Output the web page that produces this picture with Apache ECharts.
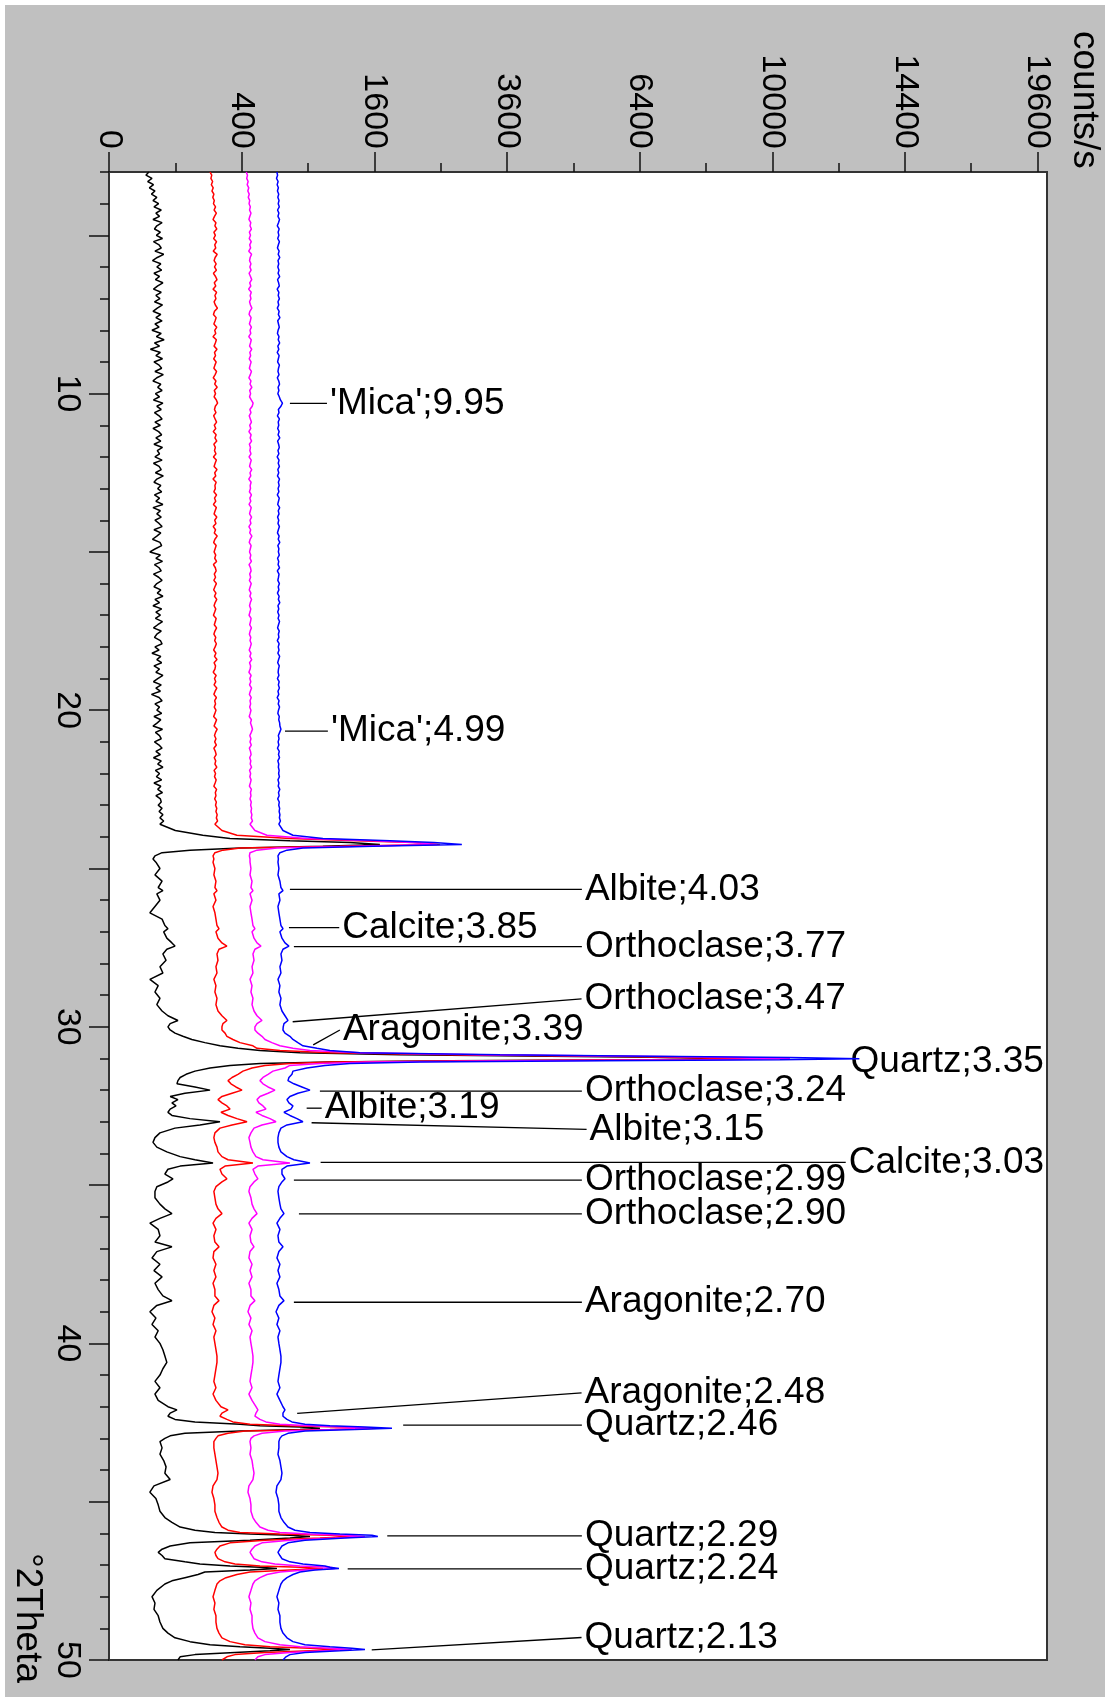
<!DOCTYPE html>
<html><head><meta charset="utf-8">
<script src="https://cdn.jsdelivr.net/npm/echarts@6/dist/echarts.min.js"></script>
<style>html,body{margin:0;padding:0;background:#fff;}#chart{width:1105px;height:1697px;}</style>
</head><body><div id="chart"></div>
<script>
// 2theta sampling positions (degrees)
const theta = [
3,3.1,3.2,3.3,3.4,3.5,3.6,3.7,3.8,3.9,
4,4.1,4.2,4.3,4.4,4.5,4.6,4.7,4.8,4.9,
5,5.1,5.2,5.3,5.4,5.5,5.6,5.7,5.8,5.9,
6,6.1,6.2,6.3,6.4,6.5,6.6,6.7,6.8,6.9,
7,7.1,7.2,7.3,7.4,7.5,7.6,7.7,7.8,7.9,
8,8.1,8.2,8.3,8.4,8.5,8.6,8.7,8.8,8.9,
9,9.1,9.2,9.3,9.4,9.5,9.6,9.7,9.8,9.9,
10,10.1,10.2,10.3,10.4,10.5,10.6,10.7,10.8,10.9,
11,11.1,11.2,11.3,11.4,11.5,11.6,11.7,11.8,11.9,
12,12.1,12.2,12.3,12.4,12.5,12.6,12.7,12.8,12.9,
13,13.1,13.2,13.3,13.4,13.5,13.6,13.7,13.8,13.9,
14,14.1,14.2,14.3,14.4,14.5,14.6,14.7,14.8,14.9,
15,15.1,15.2,15.3,15.4,15.5,15.6,15.7,15.8,15.9,
16,16.1,16.2,16.3,16.4,16.5,16.6,16.7,16.8,16.9,
17,17.1,17.2,17.3,17.4,17.5,17.6,17.7,17.8,17.9,
18,18.1,18.2,18.3,18.4,18.5,18.6,18.7,18.8,18.9,
19,19.1,19.2,19.3,19.4,19.5,19.6,19.7,19.8,19.9,
20,20.1,20.2,20.3,20.4,20.5,20.6,20.7,20.8,20.9,
21,21.1,21.2,21.3,21.4,21.5,21.6,21.7,21.8,21.9,
22,22.1,22.2,22.3,22.4,22.5,22.6,22.7,22.8,22.9,
23,23.1,23.2,23.3,23.4,23.5,
23.6,23.8,23.95,24.05,24.12,24.18,24.24,24.3,24.35,24.42,24.5,24.6,24.7,
24.8,25,25.2,25.4,25.6,25.7,25.8,26,26.2,26.4,26.6,26.8,26.9,27,27.2,27.35,27.45,27.55,27.7,27.9,28.1,28.3,28.5,28.7,28.9,29.1,29.3,29.5,29.65,29.8,29.9,
30,30.1,30.2,30.3,30.4,30.5,30.6,30.68,30.75,30.82,30.88,30.93,30.97,31.01,31.04,31.07,31.11,31.16,31.22,31.3,31.4,31.5,31.6,31.7,31.8,31.9,32,32.1,32.2,32.3,32.4,32.5,32.6,32.7,32.8,32.9,33,33.1,33.2,33.35,33.5,33.65,33.8,33.95,34.1,34.2,34.3,34.4,34.5,34.65,34.8,34.9,35.05,35.2,
35.4,35.6,35.75,35.9,36.05,36.2,36.4,36.6,36.8,36.95,37.1,37.3,37.5,37.7,37.9,38.1,38.3,38.5,38.65,38.8,39,39.2,39.4,39.6,39.8,40,40.2,40.4,40.6,40.8,41,41.2,41.4,41.6,41.8,42,42.1,42.2,42.3,42.4,42.48,42.55,
42.6,42.64,42.68,42.72,42.77,42.84,42.92,43,43.1,
43.3,43.5,43.7,43.9,44.1,44.3,44.5,44.7,44.9,45.1,45.3,45.5,45.65,45.8,45.9,
45.97,46.02,46.06,46.1,46.15,46.22,46.3,46.4,46.5,46.6,46.7,46.8,46.9,46.97,
47.03,47.07,47.11,47.16,47.22,47.3,47.4,47.5,47.6,
47.8,48,48.2,48.4,48.6,48.8,49,49.15,49.3,49.42,49.52,
49.58,49.63,49.67,49.71,49.76,49.83,49.9,50
];

// counts/s, one value per theta position
const blackCounts = [
36,31,42,34,45,37,48,41,52,44,
56,46,62,50,58,44,64,52,47,60,
51,65,45,57,62,48,68,53,43,61,
52,63,46,58,49,66,54,45,62,50,
59,47,65,53,44,61,50,64,48,57,
42,62,51,69,47,58,39,60,50,65,
46,57,63,48,67,52,44,61,54,64,
49,58,45,66,52,62,47,57,64,48,
60,44,56,63,50,61,46,65,53,58,
48,64,45,57,62,49,67,52,46,61,
54,63,47,58,50,66,44,60,52,62,
48,57,64,46,61,52,43,59,63,49,
38,60,50,65,47,57,62,45,56,64,
52,46,61,53,66,48,58,44,63,50,
60,49,65,54,45,62,52,47,60,64,
48,57,42,61,52,63,46,58,50,66,
54,45,62,50,60,41,57,64,48,58,
52,63,46,61,53,44,65,49,58,62,
47,57,64,50,60,45,62,54,66,49,
58,51,63,46,61,54,65,50,60,62,
55,64,57,66,59,68,
59,100,200,333,744,1319,1668,1040,390,149,64,48,44,
50,59,48,64,55,66,52,59,48,38,64,71,79,68,76,90,99,76,66,74,59,66,38,55,48,59,52,64,79,108,85,
79,85,99,124,156,209,280,378,518,829,1923,4416,7407,8950,6650,2641,1109,518,333,232,168,135,115,108,105,168,232,131,85,108,90,102,85,79,90,149,280,188,99,59,48,44,52,76,115,168,246,115,79,71,93,79,52,48,
48,59,71,90,59,38,55,59,48,90,52,42,59,46,64,48,55,66,90,52,38,50,42,55,48,59,66,71,76,66,59,48,59,48,55,79,105,85,79,99,168,390,
518,829,1011,829,390,131,85,71,59,
64,59,68,74,71,85,46,38,50,55,59,71,90,115,168,
255,452,744,918,744,452,149,85,64,55,64,71,131,188,
333,518,641,452,209,180,131,90,71,
52,42,48,46,55,59,66,79,99,149,232,
390,589,744,589,361,168,115,108
];

const redCounts = [
232,240,236,244,238,247,241,250,245,252,
248,258,251,262,253,246,260,255,264,250,
257,249,263,254,259,247,266,256,251,261,
253,262,248,258,265,252,259,246,263,255,
260,251,257,267,253,248,261,256,250,264,
254,259,246,262,257,251,265,253,258,249,
261,255,250,263,256,247,260,254,266,252,
258,251,262,268,257,253,260,249,256,263,
252,259,247,261,255,264,250,257,253,260,
248,262,256,251,265,254,259,246,261,255,
257,250,263,253,259,248,262,256,251,264,
254,260,247,258,252,266,255,249,261,256,
251,259,254,263,248,257,261,252,258,250,
262,255,249,260,253,264,256,251,259,254,
248,261,257,252,263,255,250,259,254,262,
256,249,260,253,265,251,258,255,247,261,
253,259,251,264,256,250,262,254,258,252,
260,255,249,263,257,251,266,258,253,260,
254,262,250,257,261,252,259,255,264,251,
258,253,261,256,250,263,257,260,254,262,
258,264,260,266,262,268,
255,290,372,744,1397,2100,2489,1212,390,295,255,246,250,
246,255,250,260,255,265,250,260,246,255,260,265,275,260,270,290,316,275,265,270,260,265,250,260,255,265,260,270,290,316,295,
290,290,306,316,349,390,471,498,664,1109,2641,5476,7934,9390,6650,3126,1109,744,553,465,408,378,344,322,338,366,402,344,290,270,290,316,333,285,322,372,433,344,280,255,250,255,265,270,290,322,471,306,280,290,316,290,260,250,
255,260,270,290,260,246,260,250,255,275,250,246,260,250,260,246,255,255,275,250,241,255,246,260,250,255,260,265,265,260,255,250,260,246,260,285,322,290,280,316,349,452,
744,1212,1630,1109,420,322,270,260,250,
250,255,260,265,270,265,246,241,250,255,255,265,275,290,322,
390,664,1109,1397,1011,553,333,280,265,255,260,270,306,361,
518,829,1040,744,452,372,311,280,265,
255,246,255,250,260,260,265,275,290,333,420,
589,918,1243,918,553,361,316,290
];

const magentaCounts = [
428,436,431,440,434,444,438,447,441,450,
446,454,449,458,451,445,457,452,461,448,
455,447,460,450,456,444,462,453,449,458,
451,459,446,455,463,450,457,443,460,453,
458,449,455,464,451,446,459,454,448,461,
452,457,444,460,455,449,463,451,456,447,
459,453,448,461,454,445,458,452,464,450,
456,449,460,472,466,451,458,447,454,461,
450,457,445,459,453,462,448,455,451,458,
446,460,454,449,463,452,457,444,459,453,
455,448,461,451,457,446,460,454,449,462,
452,458,445,456,450,464,453,447,459,454,
449,457,452,461,446,455,459,450,456,448,
460,453,447,458,451,462,454,449,457,452,
446,459,455,450,461,453,448,457,452,460,
454,447,458,451,463,449,456,453,445,459,
451,457,449,462,454,448,460,452,456,450,
458,453,447,461,455,462,468,460,451,458,
452,460,448,455,459,450,457,453,462,449,
456,451,459,454,448,461,455,458,452,460,
456,462,458,464,460,468,
452,484,567,890,1583,2100,2443,1397,641,498,452,448,452,
452,458,452,465,458,471,452,465,452,458,465,471,484,465,478,498,525,484,471,478,465,471,452,465,458,471,465,478,498,532,498,
484,484,504,532,553,603,664,769,918,1431,3126,6400,9050,10540,7934,3836,1547,1011,744,704,611,575,539,518,539,575,626,575,518,498,511,539,560,491,532,589,634,532,478,458,445,452,458,471,491,539,744,504,471,484,504,478,452,445,
458,465,478,498,465,445,465,452,458,478,452,445,465,452,465,445,458,458,484,452,439,458,445,465,452,458,465,471,471,465,458,452,465,445,465,491,504,491,484,518,560,664,
918,1265,1571,1160,704,532,478,458,452,
458,452,465,471,478,471,445,439,452,458,458,471,491,518,575,
664,918,1265,1489,1160,744,532,484,465,452,465,478,532,626,
829,1109,1160,873,664,567,518,484,471,
458,445,458,452,465,465,471,484,504,553,664,
829,1109,1340,1060,744,553,504,484
];

const blueCounts = [
640,646,638,650,643,652,645,655,648,657,
651,659,646,656,649,661,653,644,658,650,
656,647,660,652,645,658,651,663,649,655,
648,657,650,662,646,654,659,643,656,651,
660,649,655,644,658,652,664,647,653,659,
650,645,657,651,662,648,655,643,658,652,
646,660,653,649,657,644,655,661,650,656,
648,659,668,684,672,652,657,645,660,651,
655,647,658,650,663,646,654,659,649,656,
643,657,651,660,648,655,645,661,652,658,
650,656,644,659,653,647,662,651,657,646,
655,649,660,652,645,658,651,663,648,656,
652,659,646,655,650,661,644,657,653,648,
660,651,656,645,658,652,663,649,655,647,
657,650,661,653,646,659,652,656,644,658,
651,657,648,662,654,647,659,653,650,656,
645,658,652,660,649,655,643,657,651,661,
653,648,659,655,662,664,672,662,652,657,
650,656,645,659,653,661,648,655,652,658,
654,660,649,656,651,663,653,658,647,659,
655,662,658,664,660,668,
656,688,769,1040,1794,2400,2830,1583,855,720,664,649,652,
649,656,649,664,672,688,656,664,649,656,664,672,688,664,680,704,736,688,672,680,664,672,649,664,656,672,664,680,704,728,696,
690,688,704,744,769,811,855,983,1109,1431,3473,6650,10540,12800,10230,5480,2196,1319,1060,890,769,761,736,728,777,846,918,811,744,720,736,769,753,696,744,803,855,720,672,656,649,649,656,672,720,777,918,720,680,680,704,680,656,649,
656,664,672,696,664,641,664,649,656,688,656,641,664,649,664,641,656,664,696,656,634,656,641,664,649,656,664,672,672,664,656,649,664,641,664,688,704,688,688,720,761,873,
1109,1489,1820,1375,873,728,680,664,656,
656,649,664,672,680,672,641,634,649,656,656,672,696,728,786,
918,1212,1571,1643,1265,873,728,680,664,649,664,680,744,855,
1060,1109,1202,964,829,769,720,688,672,
656,641,656,649,664,664,672,688,720,769,873,
1109,1340,1489,1212,873,744,712,688
];

// axis ticks
const countTicks = [0,400,1600,3600,6400,10000,14400,19600];
const countMinorTicks = [100,900,2500,4900,8100,12100,16900];
const countMax = 20000;
const thetaMin = 3, thetaMax = 50;
const thetaLabels = [10,20,30,40,50];
const thetaMajorTicks = [5,10,15,20,25,30,35,40,45,50];
const thetaMinorTicks = [3,4,6,7,8,9,11,12,13,14,16,17,18,19,21,22,23,24,26,27,28,29,31,32,33,34,36,37,38,39,41,42,43,44,46,47,48,49];

// peak annotations
const annoText = ["'Mica';9.95","'Mica';4.99","Albite;4.03","Calcite;3.85","Orthoclase;3.77","Orthoclase;3.47","Aragonite;3.39","Quartz;3.35","Orthoclase;3.24","Albite;3.19","Albite;3.15","Calcite;3.03","Orthoclase;2.99","Orthoclase;2.90","Aragonite;2.70","Aragonite;2.48","Quartz;2.46","Quartz;2.29","Quartz;2.24","Quartz;2.13"];
const annoPeakTheta = [10.31,20.66,25.66,26.87,27.47,29.84,30.57,31.10,32.03,32.57,33.03,34.28,34.84,35.91,38.70,42.21,42.58,46.08,47.12,49.68];
const annoPeakCounts = [744,704,744,736,777,767,948,12400,1011,888,933,1018,777,820,777,805,1967,1760,1295,1569];
const annoLabelTheta = [10.31,20.66,25.66,26.87,27.47,29.12,30.10,31.10,32.03,32.57,33.24,34.28,34.84,35.91,38.70,41.56,42.58,46.08,47.12,49.29];
const annoLabelCounts = [1080,1089,5083,1205,5083,5076,1212,12400,5083,1028,5185,12338,5083,5083,5083,5076,5083,5083,5083,5076];

[blackCounts, redCounts, magentaCounts, blueCounts].forEach((a, k) => {
  if (a.length !== theta.length) console.error('length mismatch', k, a.length, theta.length);
});

const FONT = "'Liberation Sans', Arial, sans-serif";
const sq = Math.sqrt;
function pts(arr) { return theta.map((t, i) => [sq(arr[i]), t]); }
function trace(name, arr, color) {
  return { name: name, type: 'line', data: pts(arr), showSymbol: false, symbol: 'none',
    lineStyle: { color: color, width: 1.5 }, itemStyle: { color: color }, animation: false, z: 3 };
}
const tickStyle = { color: '#111', width: 1.5 };

const chart = echarts.init(document.getElementById('chart'), null, { renderer: 'canvas' });
chart.setOption({
  backgroundColor: '#c0c0c0',
  animation: false,
  textStyle: { fontFamily: FONT },
  grid: { left: 109, top: 172, width: 938, height: 1488, show: true, backgroundColor: '#fff', borderColor: '#333', borderWidth: 2 },
  xAxis: [
    { type: 'value', position: 'top', min: 0, max: sq(countMax),
      axisLine: { show: false }, splitLine: { show: false },
      axisTick: { show: true, length: 20, customValues: countTicks.map(sq), lineStyle: tickStyle },
      axisLabel: { show: false } },
    { type: 'value', position: 'top', min: 0, max: sq(countMax),
      axisLine: { show: false }, splitLine: { show: false }, axisLabel: { show: false },
      axisTick: { show: true, length: 9, customValues: countMinorTicks.map(sq), lineStyle: tickStyle } }
  ],
  yAxis: [
    { type: 'value', position: 'left', inverse: true, min: thetaMin, max: thetaMax,
      axisLine: { show: false }, splitLine: { show: false },
      axisTick: { show: true, length: 20, customValues: thetaMajorTicks, lineStyle: tickStyle },
      axisLabel: { show: true, customValues: thetaLabels, rotate: -90, align: 'center', verticalAlign: 'top',
        margin: 25, fontSize: 34, fontFamily: FONT, color: '#000' } },
    { type: 'value', position: 'left', inverse: true, min: thetaMin, max: thetaMax,
      axisLine: { show: false }, splitLine: { show: false }, axisLabel: { show: false },
      axisTick: { show: true, length: 9, customValues: thetaMinorTicks, lineStyle: tickStyle } }
  ],
  series: [
    // rotated count-axis tick labels, placed through the axis scale
    { type: 'custom', name: 'countLabels', coordinateSystem: 'cartesian2d', clip: false, z: 5,
      encode: { x: 0, y: 1 },
      data: countTicks.map(c => [sq(c), thetaMin]),
      renderItem: function (params, api) {
        const p = api.coord([api.value(0), api.value(1)]);
        return { type: 'text', x: p[0], y: p[1] - 23, rotation: -Math.PI / 2,
          style: { text: String(countTicks[params.dataIndex]), fill: '#000', fontSize: 34, fontFamily: FONT, align: 'right', verticalAlign: 'middle' } };
      } },
    { type: 'custom', name: 'labels', coordinateSystem: 'cartesian2d', clip: false, z: 2,
      encode: { x: [0, 2], y: [1, 3] },
      data: annoText.map((t, i) => [sq(annoPeakCounts[i]), annoPeakTheta[i], sq(annoLabelCounts[i]), annoLabelTheta[i]]),
      renderItem: function (params, api) {
        const i = params.dataIndex;
        const p1 = api.coord([api.value(0), api.value(1)]);
        const p2 = api.coord([api.value(2), api.value(3)]);
        return { type: 'group', children: [
          { type: 'line', shape: { x1: p1[0], y1: p1[1], x2: p2[0], y2: p2[1] }, style: { stroke: '#000', lineWidth: 1.3 } },
          { type: 'text', x: p2[0] + 3, y: p2[1], style: { text: annoText[i], fill: '#000', fontSize: 37, fontFamily: FONT, align: 'left', verticalAlign: 'middle' } }
        ] };
      } },
    trace('black', blackCounts, '#000000'),
    trace('red', redCounts, '#ff0000'),
    trace('magenta', magentaCounts, '#ff00ff'),
    trace('blue', blueCounts, '#0000ff')
  ],
  graphic: [
    { type: 'rect', silent: true, shape: { x: 0, y: 0, width: 1105, height: 5 }, style: { fill: '#fff' } },
    { type: 'rect', silent: true, shape: { x: 0, y: 0, width: 5, height: 1697 }, style: { fill: '#fff' } },
    { type: 'text', x: 1084, y: 31, rotation: -Math.PI / 2, style: { text: 'counts/s', fontSize: 37, fontFamily: FONT, fill: '#000', align: 'left', verticalAlign: 'middle' } },
    { type: 'text', x: 27, y: 1553, rotation: -Math.PI / 2, style: { text: '°2Theta', fontSize: 37, fontFamily: FONT, fill: '#000', align: 'left', verticalAlign: 'middle' } }
  ]
});
</script></body></html>
